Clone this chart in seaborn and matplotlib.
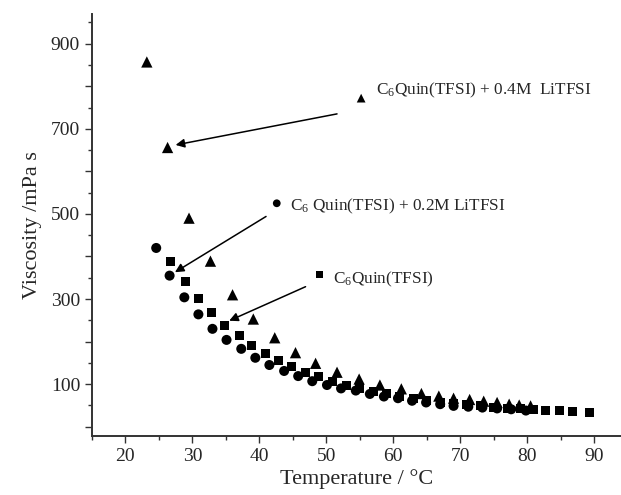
import numpy as np
import pandas as pd
import matplotlib
matplotlib.use("Agg")
import matplotlib.pyplot as plt
from matplotlib.ticker import MultipleLocator, FixedLocator, FixedFormatter
import seaborn as sns

# C6Quin(TFSI) neat
temp_neat = [26.8, 28.9, 30.9, 32.9, 34.8, 37.0, 38.9, 40.9, 42.8, 44.8, 46.9, 48.8, 50.9, 53.0,
             55.0, 57.0, 59.0, 61.0, 63.0, 65.0, 67.0, 69.0, 71.0, 73.0, 75.0, 77.0, 79.0, 81.0,
             82.8, 84.8, 86.8, 89.3]
visc_neat = [388, 341, 301, 268, 239, 214, 191, 171, 156, 141, 127, 117, 106, 98,
             90, 83, 77, 72, 67, 62, 58, 55, 52, 49, 46, 44, 42, 40,
             39, 37, 35, 33]

# + 0.2M LiTFSI
temp_02 = [24.6, 26.6, 28.8, 30.9, 33.0, 35.1, 37.3, 39.4, 41.5, 43.7, 45.8, 47.9, 50.1, 52.2,
           54.4, 56.5, 58.6, 60.7, 62.8, 64.9, 67.0, 69.0, 71.2, 73.3, 75.5, 77.6, 79.8]
visc_02 = [420, 355, 304, 264, 230, 204, 183, 162, 145, 131, 119, 107, 98, 90,
           85, 77, 71, 67, 61, 57, 53, 49, 47, 45, 43, 41, 38]

# + 0.4M LiTFSI
temp_04 = [23.2, 26.3, 29.5, 32.7, 36.0, 39.1, 42.3, 45.4, 48.4, 51.6, 54.9, 58.0, 61.2,
           64.2, 66.8, 69.0, 71.4, 73.5, 75.5, 77.3, 78.8, 80.5]
visc_04 = [857, 656, 490, 389, 310, 253, 209, 174, 149, 128, 112, 98, 89,
           78, 72, 67, 64, 60, 57, 53, 51, 49]

series_names = ["neat", "0.2M", "0.4M"]
labels = ["C$_6$Quin(TFSI)", "C$_6$ Quin(TFSI) + 0.2M LiTFSI", "C$_6$Quin(TFSI) + 0.4M  LiTFSI"]

df = pd.concat([
    pd.DataFrame({"T": temp_neat, "eta": visc_neat, "s": "neat"}),
    pd.DataFrame({"T": temp_02, "eta": visc_02, "s": "0.2M"}),
    pd.DataFrame({"T": temp_04, "eta": visc_04, "s": "0.4M"}),
])

sns.set_style("ticks")
plt.rcParams["font.family"] = ["Liberation Serif", "DejaVu Serif"]
plt.rcParams["mathtext.fontset"] = "custom"
plt.rcParams["mathtext.rm"] = "Liberation Serif"
plt.rcParams["mathtext.it"] = "Liberation Serif:italic"

fig = plt.figure(figsize=(6.21, 4.95), dpi=100)
ax = fig.add_axes([0.148, 0.119, 0.852, 0.853])

markers = {"neat": "s", "0.2M": "o", "0.4M": "^"}
sizes = {"neat": 42, "0.2M": 52, "0.4M": 66}
for name in series_names:
    sub = df[df["s"] == name]
    sns.scatterplot(data=sub, x="T", y="eta", marker=markers[name], s=sizes[name],
                    color="black", edgecolor="none", ax=ax, legend=False)

# annotations: marker position, text position, arrow start, arrow end
ann = [
    ("neat", (49.0, 357), (51.0, 347), (46.9, 329), (35.5, 249)),
    ("0.2M", (42.6, 525), (44.6, 517), (41.0, 494), (27.4, 363)),
    ("0.4M", (55.2, 772), (57.4, 790), (51.6, 735), (27.5, 662)),
]
for (name, mpos, tpos, a0, a1), lab in zip(ann, labels):
    ax.scatter([mpos[0]], [mpos[1]], marker=markers[name], s=sizes[name] * 0.6, color="black",
               edgecolor="none")
    ax.text(tpos[0], tpos[1], lab, fontsize=12.4, va="center", ha="left")
    ax.annotate("", xy=a1, xytext=a0,
                arrowprops=dict(arrowstyle="-|>", color="black", lw=1.1,
                                mutation_scale=13, shrinkA=0, shrinkB=0))

ax.set_xlim(15, 94)
ax.set_ylim(-22, 970)
ax.xaxis.set_major_locator(MultipleLocator(10))
ax.xaxis.set_minor_locator(MultipleLocator(5))
yt = list(range(0, 1000, 100))
ax.yaxis.set_major_locator(FixedLocator(yt))
ax.yaxis.set_major_formatter(FixedFormatter([str(v) if v % 200 == 100 else "" for v in yt]))
ax.yaxis.set_minor_locator(MultipleLocator(50))
ax.tick_params(which="major", length=5, width=1, labelsize=14, color="#333333")
ax.tick_params(which="minor", length=3, width=1, color="#333333")

for sp in ["top", "right"]:
    ax.spines[sp].set_visible(False)
for sp in ["left", "bottom"]:
    ax.spines[sp].set_linewidth(1.4)
    ax.spines[sp].set_color("#333333")

ax.set_xlabel("Temperature / \u00b0C", fontsize=16, labelpad=3)
ax.set_ylabel("Viscosity /mPa s", fontsize=16, labelpad=6)

fig.savefig("out.png", dpi=100)
